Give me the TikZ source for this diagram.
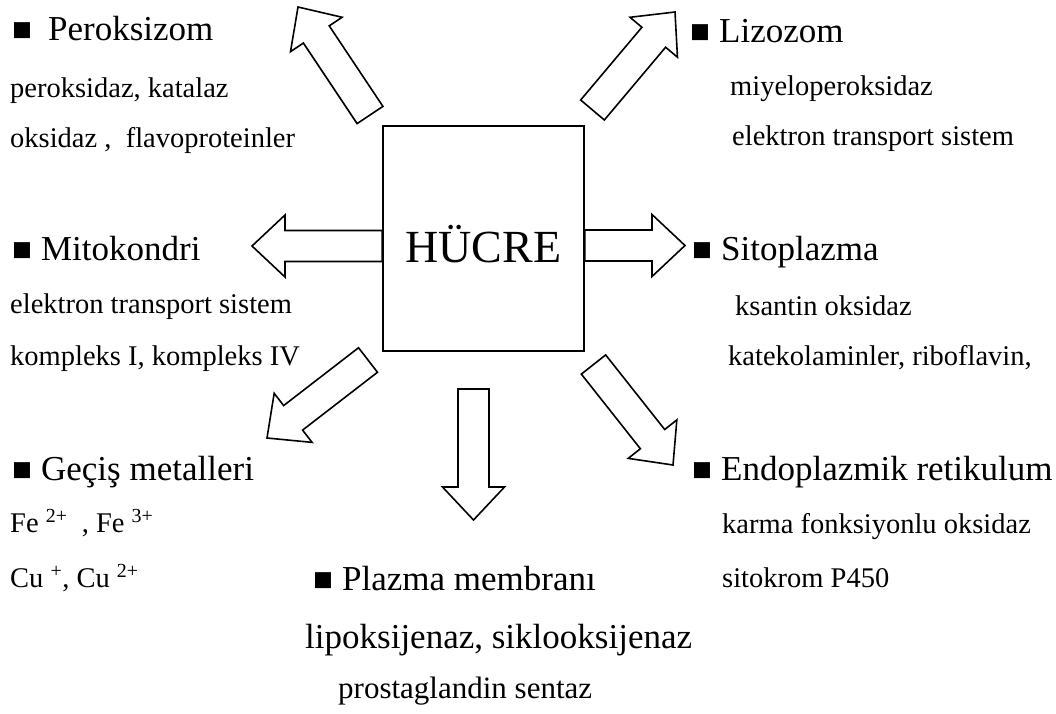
\documentclass[tikz,border=0pt]{standalone}
\usepackage{fontspec}
\setmainfont{Liberation Serif}
\usetikzlibrary{calc,positioning}

\newcommand{\sq}{{\fontsize{33}{33}\selectfont ■}\hspace{9pt}}

\begin{document}
\begin{tikzpicture}[x=1pt,y=-1pt]

                \tikzstyle{heading}=[anchor=base west, inner sep=0pt, font=\fontsize{35}{40}\selectfont]
                \tikzstyle{detail}=[anchor=base west, inner sep=0pt, font=\fontsize{28.5}{34}\selectfont]
                \tikzstyle{cellbox}=[draw=black, line width=1.6pt, minimum width=201pt, minimum height=225pt, inner sep=0pt,
                    text height=47pt, text depth=0pt, font=\fontsize{46}{50}\selectfont]

                \def \hs {15.5pt}
                \def \hh {31pt}
                \def \hl {33pt}
                \tikzstyle{hollow}=[draw=black, fill=white, line width=1.6pt, line join=miter,
                    to path={($(\tikztostart)!\hs!90:(\tikztotarget)$)
                        -- ($(\tikztotarget)!\hl!(\tikztostart)!\hs!90:(\tikztotarget)$)
                        -- ($(\tikztotarget)!\hl!(\tikztostart)!\hh!90:(\tikztotarget)$)
                        -- (\tikztotarget)
                        -- ($(\tikztotarget)!\hl!(\tikztostart)!\hh!-90:(\tikztotarget)$)
                        -- ($(\tikztotarget)!\hl!(\tikztostart)!\hs!-90:(\tikztotarget)$)
                        -- ($(\tikztostart)!\hs!-90:(\tikztotarget)$) -- cycle}]

                \useasboundingbox (0,0) rectangle (1056,713);

                % Cell
                \node[cellbox] (cell) at (483.5,238.5) {HÜCRE};

                % Arrow ends
                \coordinate (pe-tail) at (370,115);
                \coordinate (pe-tip) at (298,7);
                \coordinate (li-tail) at (592.5,110);
                \coordinate (li-tip) at (675,12);
                \coordinate (mi-tail) at (cell.west |- 0,246);
                \coordinate (mi-tip) at (252,246);
                \coordinate (si-tail) at (cell.east |- 0,245.5);
                \coordinate (si-tip) at (685,245.5);
                \coordinate (ge-tail) at (368,360);
                \coordinate (ge-tip) at (267,438);
                \coordinate (pl-tail) at (473.5,389);
                \coordinate (pl-tip) at (473.5,520);
                \coordinate (en-tail) at (593.5,364.5);
                \coordinate (en-tip) at (673,465);

                \draw[hollow] (pe-tail) to (pe-tip);
                \draw[hollow] (li-tail) to (li-tip);
                \draw[hollow] (mi-tail) to (mi-tip);
                \draw[hollow] (si-tail) to (si-tip);
                \draw[hollow] (ge-tail) to (ge-tip);
                \draw[hollow] (pl-tail) to (pl-tip);
                \draw[hollow] (en-tail) to (en-tip);

                % Peroksizom
                \node[heading] (pe-head) at (12,40) {\sq\hspace{7pt}Peroksizom};
                \node[detail] (pe-a) at (10,97) {peroksidaz, katalaz};
                \node[detail] (pe-b) at (10,147) {oksidaz ,\ \ flavoproteinler};

                % Lizozom
                \node[heading] (li-head) at (690,42) {\sq Lizozom};
                \node[detail] (li-a) at (730,95) {miyeloperoksidaz};
                \node[detail] (li-b) at (732,145) {elektron transport sistem};

                % Mitokondri
                \node[heading] (mi-head) at (12,260) {\sq Mitokondri};
                \node[detail] (mi-a) at (10,313) {elektron transport sistem};
                \node[detail] (mi-b) at (10,365) {kompleks I, kompleks IV};

                % Sitoplazma
                \node[heading] (si-head) at (692,260) {\sq Sitoplazma};
                \node[detail] (si-a) at (735,315) {ksantin oksidaz};
                \node[detail] (si-b) at (728,365) {katekolaminler, riboflavin,};

                % Gecis metalleri
                \node[heading] (ge-head) at (12,480) {\sq Geçiş metalleri};
                \node[detail] (ge-a) at (10,532) {Fe \textsuperscript{2+}\ \ , Fe \textsuperscript{3+}};
                \node[detail] (ge-b) at (10,587) {Cu \textsuperscript{+}, Cu \textsuperscript{2+}};

                % Endoplazmik retikulum
                \node[heading] (en-head) at (692,480) {\sq Endoplazmik retikulum};
                \node[detail] (en-a) at (722,533) {karma fonksiyonlu oksidaz};
                \node[detail] (en-b) at (722,587) {sitokrom P450};

                % Plazma membrani
                \node[heading] (pl-head) at (313,590) {\sq Plazma membranı};
                \node[heading] (pl-a) at (305,648) {lipoksijenaz, siklooksijenaz};
                \node[detail, font=\fontsize{31}{34}\selectfont] (pl-b) at (338,698) {prostaglandin sentaz};

\end{tikzpicture}
\end{document}
